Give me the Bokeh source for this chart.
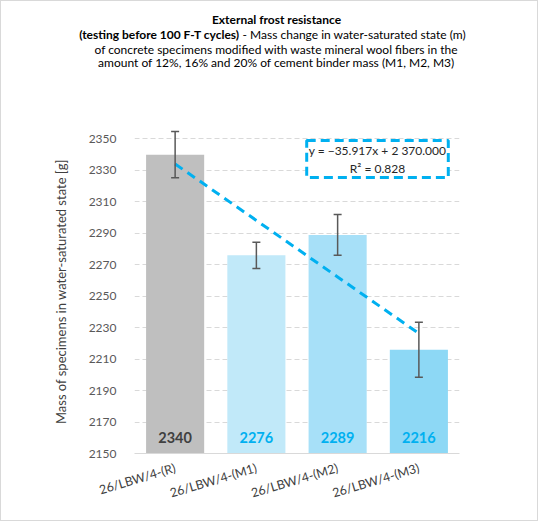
import numpy as np
from bokeh.plotting import figure
from bokeh.layouts import column, row
from bokeh.core.properties import value
from bokeh.models import (ColumnDataSource, FactorRange, Range1d, FixedTicker,
                          Whisker, TeeHead, Label, LabelSet)
from bokeh.embed import file_html
from bokeh.resources import INLINE

# ---- data ----
categories = ["26/LBW/4-(R)", "26/LBW/4-(M1)", "26/LBW/4-(M2)", "26/LBW/4-(M3)"]
mass_values = [2340, 2276, 2289, 2216]
error_values = [14.7, 8.3, 13.0, 17.5]
value_labels = ["2340", "2276", "2289", "2216"]
y_ticks = [2150, 2170, 2190, 2210, 2230, 2250, 2270, 2290, 2310, 2330, 2350]
trend_slope = -35.917
trend_intercept = 2370.000
r_squared = 0.828

bar_colors = ["#BFBFBF", "#C1E9F9", "#A7E0F8", "#8DD8F5"]
label_colors = ["#404040", "#00B0F0", "#00B0F0", "#00B0F0"]

FONT = "Lato"
W = 536

src = ColumnDataSource(dict(
    cat=categories,
    val=mass_values,
    upper=[v + e for v, e in zip(mass_values, error_values)],
    lower=[v - e for v, e in zip(mass_values, error_values)],
    color=bar_colors,
    lab=value_labels,
    labcolor=label_colors,
    base=[y_ticks[0]] * len(categories),
))

# ---------- title block ----------
t = figure(width=W, height=122, output_backend="svg", toolbar_location=None,
           x_range=Range1d(0, 1), y_range=Range1d(0, 1),
           x_axis_type=None, y_axis_type=None,
           min_border_left=0, min_border_right=0, min_border_top=0, min_border_bottom=0)
t.outline_line_color = None
t.grid.grid_line_color = None
tkw = dict(x_units="screen", y_units="screen", text_font=FONT,
           text_font_size="12px", text_color="#000000", text_baseline="middle")
t.add_layout(Label(x=275, y=104.5, text="External frost resistance",
                   text_align="center", text_font_style="bold", **tkw))
t.add_layout(Label(x=238, y=89, text="(testing before 100 F-T cycles)",
                   text_align="right", text_font_style="bold", **tkw))
t.add_layout(Label(x=238, y=89, text="\u00a0- Mass change in water-saturated state (m)",
                   text_align="left", **tkw))
t.add_layout(Label(x=275, y=74.5,
                   text="of concrete specimens modified with waste mineral wool fibers in the",
                   text_align="center", **tkw))
t.add_layout(Label(x=275, y=61,
                   text="amount of 12%, 16% and 20% of cement binder mass (M1, M2, M3)",
                   text_align="center", **tkw))

# ---------- chart ----------
p = figure(width=W, height=397, output_backend="svg", toolbar_location=None,
           x_range=FactorRange(*categories, range_padding=0),
           y_range=Range1d(y_ticks[0], 2356),
           min_border_left=133, min_border_right=78,
           min_border_top=6, min_border_bottom=67)
p.outline_line_color = None

p.vbar(x="cat", top="val", bottom=y_ticks[0], width=0.715, source=src,
       fill_color="color", line_color=None)

# error bars
p.add_layout(Whisker(source=src, base="cat", upper="upper", lower="lower", level="overlay",
                     line_color="#595959", line_width=1.5,
                     upper_head=TeeHead(size=8, line_color="#595959", line_width=1.5),
                     lower_head=TeeHead(size=8, line_color="#595959", line_width=1.5)))

# linear trend
xs = np.arange(1, len(categories) + 1)
trend = trend_slope * xs + trend_intercept
p.line(x=categories, y=list(trend), line_color="#00B0F0", line_width=3, line_dash="9 6")

# value labels at the base of the bars
p.add_layout(LabelSet(x="cat", y="base", text="lab", source=src, y_offset=16,
                      text_align="center", text_baseline="middle",
                      text_font=value(FONT), text_font_size="14.5px", text_font_style="bold",
                      text_color="labcolor"))

# axes
p.xgrid.grid_line_color = None
p.ygrid.grid_line_color = "#D9D9D9"
p.ygrid.grid_line_dash = "5 3"
p.ygrid.ticker = FixedTicker(ticks=y_ticks[1:])

p.yaxis.ticker = FixedTicker(ticks=y_ticks)
p.yaxis.axis_line_color = None
p.yaxis.major_tick_line_color = None
p.yaxis.minor_tick_line_color = None
p.yaxis.major_label_standoff = 12
p.yaxis.major_label_text_font = FONT
p.yaxis.major_label_text_font_size = "12px"
p.yaxis.major_label_text_color = "#595959"
p.yaxis.axis_label = "Mass of specimens in water-saturated state [g]"
p.yaxis.axis_label_text_font = FONT
p.yaxis.axis_label_text_font_size = "13px"
p.yaxis.axis_label_text_font_style = "normal"
p.yaxis.axis_label_text_color = "#404040"
p.yaxis.axis_label_standoff = 17

p.xaxis.axis_line_color = "#D9D9D9"
p.xaxis.major_tick_line_color = None
p.xaxis.minor_tick_line_color = None
p.xaxis.major_label_orientation = 0.29
p.xaxis.major_label_standoff = 8
p.xaxis.major_label_text_font = FONT
p.xaxis.major_label_text_font_size = "12.5px"
p.xaxis.major_label_text_color = "#404040"

# trendline equation box
eq_text = "y = \u221235.917x + 2 370.000\nR\u00b2 = %.3f" % r_squared
p.add_layout(Label(x=243, y=313, x_units="screen", y_units="screen", text=eq_text,
                   text_align="center", text_baseline="top",
                   text_font=FONT, text_font_size="12px", text_color="#262626",
                   background_fill_color="white",
                   border_line_color="#00B0F0", border_line_width=3,
                   border_line_dash="9 5", padding=2))

layout = column(row(t), row(p), spacing=0)
layout.styles = {"border": "1px solid #D9D9D9"}

open("out.html", "w").write(file_html(layout, INLINE))
